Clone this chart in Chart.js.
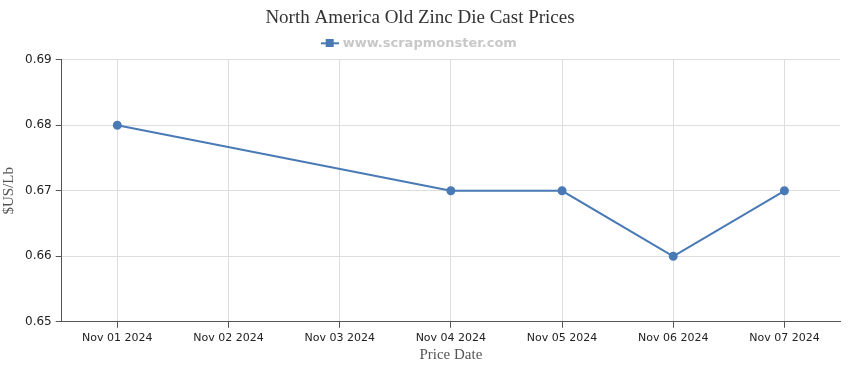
<!DOCTYPE html>
<html>
<head>
<meta charset="utf-8">
<script src="https://cdn.jsdelivr.net/npm/chart.js@4"></script>
<style>
  html, body { margin: 0; padding: 0; background: #fff; }
  #wrap { width: 850px; height: 370px; }
</style>
</head>
<body>
<div id="wrap"><canvas id="myChart"></canvas></div>
<script>
  const dates = ['Nov 01 2024', 'Nov 02 2024', 'Nov 03 2024', 'Nov 04 2024', 'Nov 05 2024', 'Nov 06 2024', 'Nov 07 2024'];
  const prices = [0.68, null, null, 0.67, 0.67, 0.66, 0.67];
  const yTicks = [0.65, 0.66, 0.67, 0.68, 0.69];

  const blue = '#4a7ab5';

  // legend marker: short line with a square in the middle
  const marker = document.createElement('canvas');
  marker.width = 18;
  marker.height = 8;
  const mctx = marker.getContext('2d');
  mctx.fillStyle = blue;
  mctx.fillRect(0, 3, 18, 2);
  mctx.fillRect(5, 0, 8, 8);

  const ctx = document.getElementById('myChart').getContext('2d');
  const myChart = new Chart(ctx, {
    type: 'line',
    data: {
      labels: dates,
      datasets: [{
        label: 'www.scrapmonster.com',
        data: prices,
        borderColor: blue,
        backgroundColor: blue,
        borderWidth: 2,
        pointRadius: 3.5,
        pointHoverRadius: 3.5,
        pointStyle: 'circle',
        tension: 0,
        spanGaps: true
      }]
    },
    options: {
      responsive: true,
      maintainAspectRatio: false,
      animation: false,
      layout: { padding: { left: 0, right: 10, top: 4, bottom: 6 } },
      plugins: {
        title: {
          display: true,
          text: 'North America Old Zinc Die Cast Prices',
          color: '#333',
          font: { family: 'Liberation Serif', size: 19, weight: 'normal' },
          padding: { top: 3, bottom: 0 }
        },
        legend: {
          display: true,
          labels: {
            color: '#c8c8c8',
            font: { family: 'DejaVu Sans', size: 13, weight: 'bold' },
            usePointStyle: true,
            boxHeight: 8,
            padding: 7,
            generateLabels: chart => [{
              text: chart.data.datasets[0].label,
              pointStyle: marker,
              fontColor: '#c8c8c8',
              lineWidth: 0,
              datasetIndex: 0
            }]
          }
        },
        tooltip: { enabled: false }
      },
      scales: {
        x: {
          offset: true,
          grid: { color: '#dddddd', tickColor: '#555', tickLength: 6, offset: false },
          border: { color: '#555' },
          ticks: {
            color: '#222',
            font: { family: 'DejaVu Sans', size: 11 },
            maxRotation: 0,
            padding: 4
          },
          title: {
            display: true,
            text: 'Price Date',
            color: '#555',
            font: { family: 'Liberation Serif', size: 15 },
            padding: { top: -3, bottom: 0 }
          }
        },
        y: {
          min: 0.65,
          max: 0.69,
          afterBuildTicks: axis => { axis.ticks = yTicks.map(v => ({ value: v })); },
          grid: { color: '#dddddd', tickColor: '#555', tickLength: 6 },
          border: { color: '#555' },
          ticks: {
            color: '#222',
            font: { family: 'DejaVu Sans', size: 12 },
            padding: 4,
            callback: v => v.toFixed(2)
          },
          title: {
            display: true,
            text: '$US/Lb',
            color: '#555',
            font: { family: 'Liberation Serif', size: 15 },
            padding: { top: 0, bottom: 3 }
          }
        }
      }
    }
  });
</script>
</body>
</html>
